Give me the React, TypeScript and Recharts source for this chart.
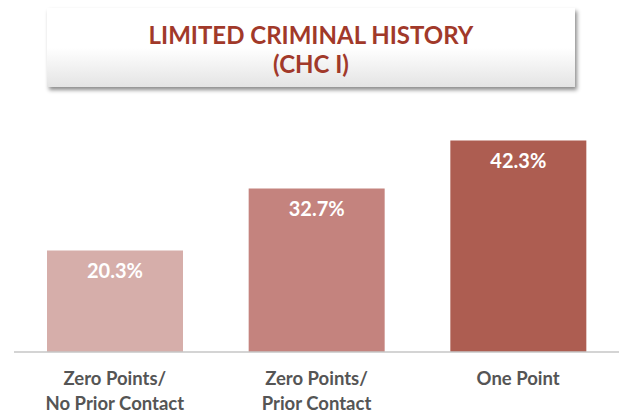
import { BarChart, Bar, XAxis, YAxis, Cell, LabelList } from 'recharts';

const categories = ['Zero Points/\nNo Prior Contact', 'Zero Points/\nPrior Contact', 'One Point'];
const rates = [20.3, 32.7, 42.3];
const barColors = ['#d6aeaa', '#c4837e', '#ad5d51'];
const titleLines = ['LIMITED CRIMINAL HISTORY', '(CHC I)'];

const data = categories.map((name, i) => ({ name, value: rates[i] }));

const FONT = 'Lato, "Open Sans", sans-serif';

function CategoryTick({ x, y, payload }: any) {
  const lines = String(payload.value).split('\n');
  return (
    <text x={x} y={y} textAnchor="middle" fill="#555555" fontFamily={FONT} fontSize={18.5} fontWeight={700}>
      {lines.map((l, i) => (
        <tspan key={i} x={x} dy={i === 0 ? 0 : 25}>{l}</tspan>
      ))}
    </text>
  );
}

function ValueLabel({ x, y, width, value }: any) {
  return (
    <text x={x + width / 2} y={y + 27} textAnchor="middle" fill="#ffffff" fontFamily={FONT} fontSize={20} fontWeight={700}>
      {value.toFixed(1)}%
    </text>
  );
}

export default function App() {
  return (
    <div style={{ position: 'absolute', left: 0, top: 0, width: 622, height: 415, background: '#fff', fontFamily: FONT }}>
      <div
        style={{
          position: 'absolute', left: 47, top: 8, width: 528, height: 79,
          background: 'linear-gradient(to bottom, #ffffff 0%, #ffffff 50%, #e4e4e4 100%)',
          boxShadow: '2px 3px 4px rgba(0,0,0,0.45)',
          color: '#a1392a', fontWeight: 700, fontSize: 24, textAlign: 'center',
          lineHeight: '29px', paddingTop: 12, boxSizing: 'border-box',
        }}
      >
        {titleLines.map((t, i) => <div key={i}>{t}</div>)}
      </div>
      <BarChart width={622} height={415} data={data} margin={{ top: 127, right: 3, left: 14, bottom: 33 }}>
        <XAxis
          dataKey="name"
          height={30}
          tick={<CategoryTick />}
          tickLine={false}
          axisLine={{ stroke: '#c6c6c6', strokeWidth: 1.5 }}
          tickMargin={27}
          interval={0}
        />
        <YAxis hide domain={[0, 45]} />
        <Bar dataKey="value" barSize={136} isAnimationActive={false}>
          {data.map((_, i) => <Cell key={i} fill={barColors[i]} />)}
          <LabelList dataKey="value" content={<ValueLabel />} />
        </Bar>
      </BarChart>
    </div>
  );
}
